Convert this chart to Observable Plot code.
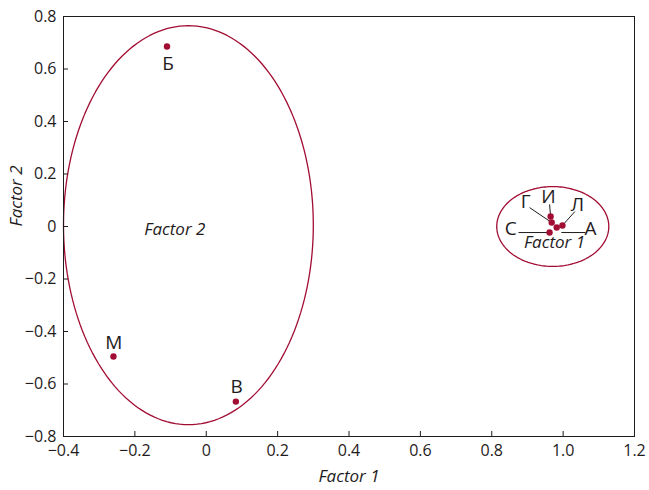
<!DOCTYPE html>
<html><head><meta charset="utf-8">
<script src="https://cdn.jsdelivr.net/npm/d3@7"></script>
<script src="https://cdn.jsdelivr.net/npm/@observablehq/plot@0.6"></script>
<style>body{margin:0;background:#fff;} #chart svg{display:block;}</style>
</head><body><div id="chart"></div>
<script>
// Points
const names   = ["Б", "М", "В", "И", "Г", "А", "Л", "С"];
const factor1 = [-0.110, -0.260, 0.083, 0.965, 0.968, 0.982, 0.998, 0.962];
const factor2 = [0.686, -0.495, -0.667, 0.038, 0.015, -0.004, 0.004, -0.023];
// Label anchors (data units) and leader lines (start, end)
const labelX   = [-0.107, -0.259, 0.085, 0.959, 0.895, 1.077, 1.040, 0.853];
const labelY   = [0.621, -0.442, -0.610, 0.114, 0.095, -0.008, 0.084, -0.011];
const leaderX1 = [null, null, null, 0.965, 0.968, 0.995, 0.998, 0.962];
const leaderY1 = [null, null, null, 0.038, 0.015, -0.023, 0.004, -0.023];
const leaderX2 = [null, null, null, 0.962, 0.906, 1.063, 1.033, 0.875];
const leaderY2 = [null, null, null, 0.084, 0.072, -0.023, 0.057, -0.023];
// Group ellipses
const groupNames  = ["Factor 2", "Factor 1"];
const groupCx     = [-0.05, 0.971];
const groupCy     = [0.005, 0.0];
const groupRx     = [0.35, 0.157];
const groupRy     = [0.76, 0.152];
const groupLabelX = [-0.088, 0.976];
const groupLabelY = [-0.010, -0.061];
// Ticks
const xTicks = [-0.4, -0.2, 0, 0.2, 0.4, 0.6, 0.8, 1.0, 1.2];
const yTicks = [-0.8, -0.6, -0.4, -0.2, 0, 0.2, 0.4, 0.6, 0.8];

const red = "#a20d33";
const ink = "#1f1b1c";

const points = names.map((n, i) => ({n, x: factor1[i], y: factor2[i], lx: labelX[i], ly: labelY[i],
  sx: leaderX1[i], sy: leaderY1[i], ex: leaderX2[i], ey: leaderY2[i]}));
const leaders = points.filter(d => d.ex != null);
const ellipse = groupNames.flatMap((g, i) => d3.range(0, 360, 2).map(a => ({
  g,
  x: groupCx[i] + groupRx[i] * Math.cos(a * Math.PI / 180),
  y: groupCy[i] + groupRy[i] * Math.sin(a * Math.PI / 180)
})));
const groups = groupNames.map((g, i) => ({g, x: groupLabelX[i], y: groupLabelY[i]}));

const fmt = d => d === 0 ? "0" : d.toFixed(1).replace("-", "\u2212");

const chart = Plot.plot({
  width: 649,
  height: 490,
  marginLeft: 63,
  marginRight: 15,
  marginTop: 16,
  marginBottom: 54,
  style: {fontFamily: "'Open Sans', sans-serif", fontSize: "16px", color: ink, background: "#fff"},
  x: {domain: [-0.4, 1.2]},
  y: {domain: [-0.8, 0.8]},
  marks: [
    Plot.line(ellipse, {x: "x", y: "y", z: "g", curve: "linear-closed", stroke: red, strokeWidth: 1.3}),
    Plot.link(leaders, {x1: "sx", y1: "sy", x2: "ex", y2: "ey", stroke: ink, strokeWidth: 1}),
    Plot.dot(points, {x: "x", y: "y", r: 3.2, fill: red, stroke: "none"}),
    Plot.text(points, {x: "lx", y: "ly", text: "n", fontSize: 19, fill: ink}),
    Plot.text(groups, {x: "x", y: "y", text: "g", fontSize: 17, fontStyle: "italic", fill: ink}),
    Plot.tickX(xTicks, {x: d => d, insetTop: 415, stroke: ink}),
    Plot.tickY(yTicks, {y: d => d, insetRight: 566, stroke: ink}),
    Plot.axisX(xTicks, {tickSize: 0, tickPadding: 8, tickFormat: fmt, label: null, fontSize: 16, fill: ink}),
    Plot.axisY(yTicks, {tickSize: 0, tickPadding: 7, tickFormat: fmt, label: null, fontSize: 16, fill: ink}),
    Plot.frame({stroke: ink, strokeWidth: 1}),
    Plot.text(["Factor 1"], {frameAnchor: "bottom", dy: 45, fontSize: 17, fontStyle: "italic", fill: ink}),
    Plot.text(["Factor 2"], {frameAnchor: "left", dx: -47, rotate: -90, fontSize: 17, fontStyle: "italic", fill: ink})
  ]
});
document.getElementById("chart").append(chart);
</script>
</body></html>
